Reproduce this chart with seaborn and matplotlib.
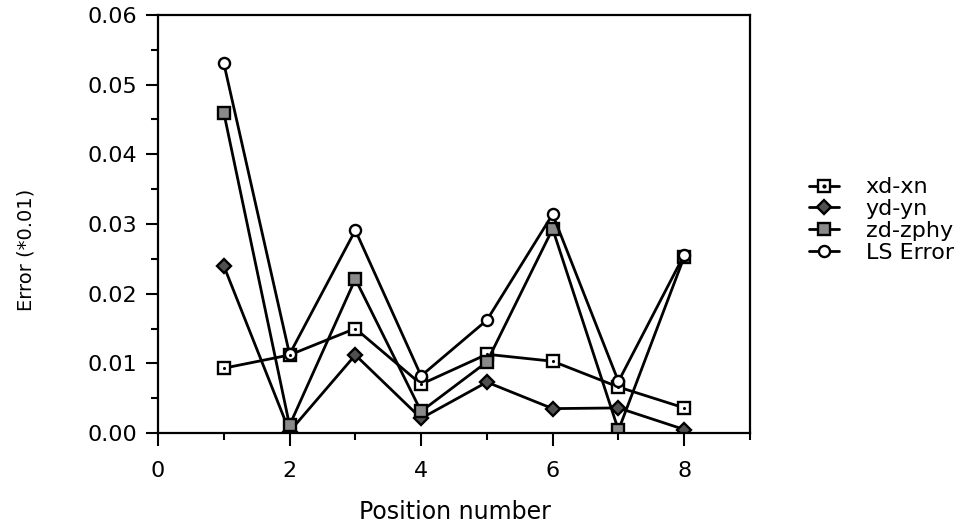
import matplotlib
matplotlib.use("Agg")
import matplotlib.pyplot as plt
import seaborn as sns
import numpy as np
import pandas as pd
from matplotlib.ticker import MultipleLocator, FormatStrFormatter
from matplotlib.legend_handler import HandlerTuple

# ---- data ----
positions = [1, 2, 3, 4, 5, 6, 7, 8]
xd_xn   = [0.0093, 0.0112, 0.0150, 0.0070, 0.0113, 0.0103, 0.0066, 0.0036]
yd_yn   = [0.0240, 0.0002, 0.0112, 0.0021, 0.0073, 0.0035, 0.0036, 0.0005]
zd_zphy = [0.0460, 0.0011, 0.0221, 0.0031, 0.0102, 0.0293, 0.0004, 0.0253]
ls_err  = [0.0531, 0.0113, 0.0291, 0.0082, 0.0162, 0.0314, 0.0074, 0.0256]
series_names = ["xd-xn", "yd-yn", "zd-zphy", "LS Error"]
x_ticks = [0, 2, 4, 6, 8]
y_ticks = [0.00, 0.01, 0.02, 0.03, 0.04, 0.05, 0.06]

sns.set_style("ticks")
plt.rcParams["font.family"] = ["DejaVu Sans"]
plt.rcParams.update({
    "text.color": "black",
    "axes.labelcolor": "black",
    "xtick.color": "black",
    "ytick.color": "black",
    "axes.edgecolor": "black",
})

fig = plt.figure(figsize=(9.77, 5.27), dpi=100)
ax = fig.add_axes([158 / 977, 1 - 433 / 527, (750 - 158) / 977, (433 - 15) / 527])

lw = 2.0
mew = 1.7
styles = {
    "xd-xn":    dict(marker="s", markersize=9, markerfacecolor="white"),
    "yd-yn":    dict(marker="D", markersize=7.5, markerfacecolor="#505050"),
    "zd-zphy":  dict(marker="s", markersize=9, markerfacecolor="#8a8a8a"),
    "LS Error": dict(marker="o", markersize=8, markerfacecolor="white"),
}
values = {"xd-xn": xd_xn, "yd-yn": yd_yn, "zd-zphy": zd_zphy, "LS Error": ls_err}

handles = []
for name in series_names:
    df = pd.DataFrame({"pos": positions, "err": values[name]})
    sns.lineplot(data=df, x="pos", y="err", ax=ax, color="black", linewidth=lw,
                 markeredgecolor="black", markeredgewidth=mew, legend=False,
                 **styles[name])
    h = plt.Line2D([], [], color="black", linewidth=lw, markeredgecolor="black",
                   markeredgewidth=mew, **styles[name])
    if name == "xd-xn":
        # small centre dot in the open squares
        sns.scatterplot(data=df, x="pos", y="err", ax=ax, color="black", s=5,
                        linewidth=0, legend=False, zorder=5)
        dot = plt.Line2D([], [], linestyle="none", marker="o", markersize=2,
                         color="black")
        h = (h, dot)
    handles.append(h)

ax.set_xlim(0, 9)
ax.set_ylim(0, 0.06)
ax.set_xticks(x_ticks)
ax.set_yticks(y_ticks)
ax.xaxis.set_minor_locator(MultipleLocator(1))
ax.yaxis.set_minor_locator(MultipleLocator(0.005))
ax.yaxis.set_major_formatter(FormatStrFormatter("%.2f"))

for s in ax.spines.values():
    s.set_visible(True)
    s.set_linewidth(1.6)
    s.set_color("black")

ax.tick_params(axis="both", which="major", direction="out", length=9, width=1.5,
               labelsize=16, colors="black")
ax.tick_params(axis="both", which="minor", direction="out", length=5, width=1.5)
ax.tick_params(axis="x", which="major", pad=11)
ax.tick_params(axis="y", which="major", pad=6)

ax.set_xlabel("Position number", fontsize=17, color="black")
ax.set_ylabel("Error (*0.01)", fontsize=14, color="black")
ax.xaxis.set_label_coords(0.502, (433 - 500) / 418)
ax.xaxis.label.set_va("top")
ax.yaxis.set_label_coords((35 - 158) / 592, (433 - 250) / 418)

leg = fig.legend(handles, series_names, loc="center left",
                 bbox_to_anchor=(809 / 977, 1 - 220 / 527), frameon=False,
                 fontsize=16, handlelength=1.35, handletextpad=1.2,
                 labelspacing=0.08, borderpad=0, borderaxespad=0,
                 handler_map={tuple: HandlerTuple(ndivide=1, pad=0)})
for t in leg.get_texts():
    t.set_color("black")

fig.savefig("out.png", dpi=100, facecolor="white")
